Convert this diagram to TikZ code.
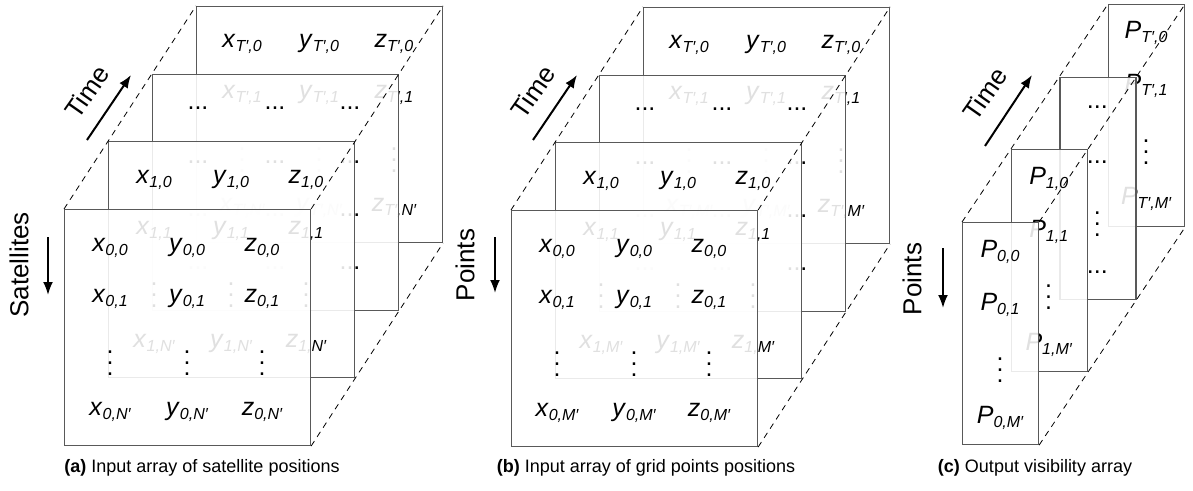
\documentclass[tikz,border=0pt]{standalone}
\usepackage{fontspec}
\setmainfont{Liberation Sans}
\usepackage{tikz}
\usetikzlibrary{arrows.meta,calc}
\newcommand{\ent}[2]{\textit{#1}\raisebox{-4pt}{\fontsize{16}{16}\selectfont\itshape #2}}
\newcommand{\tp}{T′}
\newcommand{\vd}{\vbox{\baselineskip=11pt\lineskiplimit=-20pt\hbox{.}\hbox{.}\hbox{.}}}
\tikzset{
  >={Latex[length=13pt,width=10pt]},
  plane/.style={draw=black!65, line width=1.1pt, fill=white, fill opacity=0.88, inner sep=0pt, anchor=north west},
  cell/.style={font=\fontsize{25}{29}\selectfont, inner sep=0pt},
  dim/.style={font=\fontsize{26}{30}\selectfont, inner sep=0pt},
  subcap/.style={font=\fontsize{18}{22}\selectfont, inner sep=0pt},
  link/.style={dash pattern=on 6pt off 5pt, line width=0.8pt},
  axis/.style={->, line width=2pt},
}

\begin{document}
\begin{tikzpicture}[x=1pt, y=-1pt]
  \useasboundingbox (0,0) rectangle (1193,490);
  \foreach \pn/\px/\py/\nn in {a/64/209/N, b/511/210/M} {
    \foreach \i/\sb in {3/\tp, 2/-, 1/1, 0/0} {
      \node[plane, minimum width=246, minimum height=236] (\pn\i) at (\px+44*\i, \py-67.7*\i) {};
      \ifnum\i=2
        \foreach \cx in {46,123,198}
          \foreach \ry in {35,89,142,195}
            \node[cell] (\pn\i d\cx-\ry) at ($(\pn\i.north west)+(\cx,\ry)$) {...};
      \else
        \foreach \v/\cx in {x/46, y/123, z/198} {
          \node[cell, anchor=base] (\pn\i\v0) at ($(\pn\i.north west)+(\cx,42)$) {\ent{\v}{\sb,0}};
          \node[cell, anchor=base] (\pn\i\v1) at ($(\pn\i.north west)+(\cx,93)$) {\ent{\v}{\sb,1}};
          \node[cell] (\pn\i\v v) at ($(\pn\i.north west)+(\cx,154)$) {\vd};
          \node[cell, anchor=base] (\pn\i\v n) at ($(\pn\i.north west)+(\cx,206)$) {\ent{\v}{\sb,\nn′}};
        }
      \fi
    }
    \draw[link] (\pn0.north west) -- (\pn3.north west);
    \draw[link] (\pn0.north east) -- (\pn3.north east);
    \draw[link] (\pn0.south east) -- (\pn3.south east);
  }
  \foreach \i/\sb in {3/\tp, 2/-, 1/1, 0/0} {
    \node[plane, minimum width=76, minimum height=222] (c\i) at (962+48.7*\i, 222-72.7*\i) {};
    \ifnum\i=2
      \node[cell] (c\i d0) at ($(c\i.north west)+(38,31)$) {...};
      \node[cell] (c\i d1) at ($(c\i.north west)+(38,86)$) {...};
      \node[cell] (c\i dv) at ($(c\i.north west)+(38,148)$) {\vd};
      \node[cell] (c\i dn) at ($(c\i.north west)+(38,196)$) {...};
    \else
      \node[cell, anchor=base] (c\i p0) at ($(c\i.north west)+(38,35)$) {\ent{P}{\sb,0}};
      \node[cell, anchor=base] (c\i p1) at ($(c\i.north west)+(38,88)$) {\ent{P}{\sb,1}};
      \node[cell] (c\i pv) at ($(c\i.north west)+(38,148)$) {\vd};
      \node[cell, anchor=base] (c\i pn) at ($(c\i.north west)+(38,201)$) {\ent{P}{\sb,M′}};
    \fi
  }
  \draw[link] (c0.north west) -- (c3.north west);
  \draw[link] (c0.north east) -- (c3.north east);
  \draw[link] (c0.south east) -- (c3.south east);

  \node[dim, rotate=55] (timea) at (87,92) {Time};
  \node[dim, rotate=55] (timeb) at (533,92) {Time};
  \node[dim, rotate=55] (timec) at (985,94) {Time};
  \node[dim, rotate=90] (sats) at (19,265) {Satellites};
  \node[dim, rotate=90] (ptsb) at (465,265) {Points};
  \node[dim, rotate=90] (ptsc) at (912,279) {Points};
  \coordinate (ta0) at (87,140);  \coordinate (ta1) at (131,75);
  \coordinate (tb0) at (533,140); \coordinate (tb1) at (577,75);
  \coordinate (tc0) at (985,146); \coordinate (tc1) at (1032,75);
  \coordinate (sa0) at (48,237);  \coordinate (sa1) at (48,295);
  \coordinate (sb0) at (495,237); \coordinate (sb1) at (495,293);
  \coordinate (sc0) at (943,248); \coordinate (sc1) at (943,308);
  \draw[axis] (ta0) -- (ta1);
  \draw[axis] (tb0) -- (tb1);
  \draw[axis] (tc0) -- (tc1);
  \draw[axis] (sa0) -- (sa1);
  \draw[axis] (sb0) -- (sb1);
  \draw[axis] (sc0) -- (sc1);

  \node[subcap] (capa) at (202,468) {\textbf{(a)} Input array of satellite positions};
  \node[subcap] (capb) at (646,468) {\textbf{(b)} Input array of grid points positions};
  \node[subcap] (capc) at (1035,468) {\textbf{(c)} Output visibility array};
\end{tikzpicture}
\end{document}
